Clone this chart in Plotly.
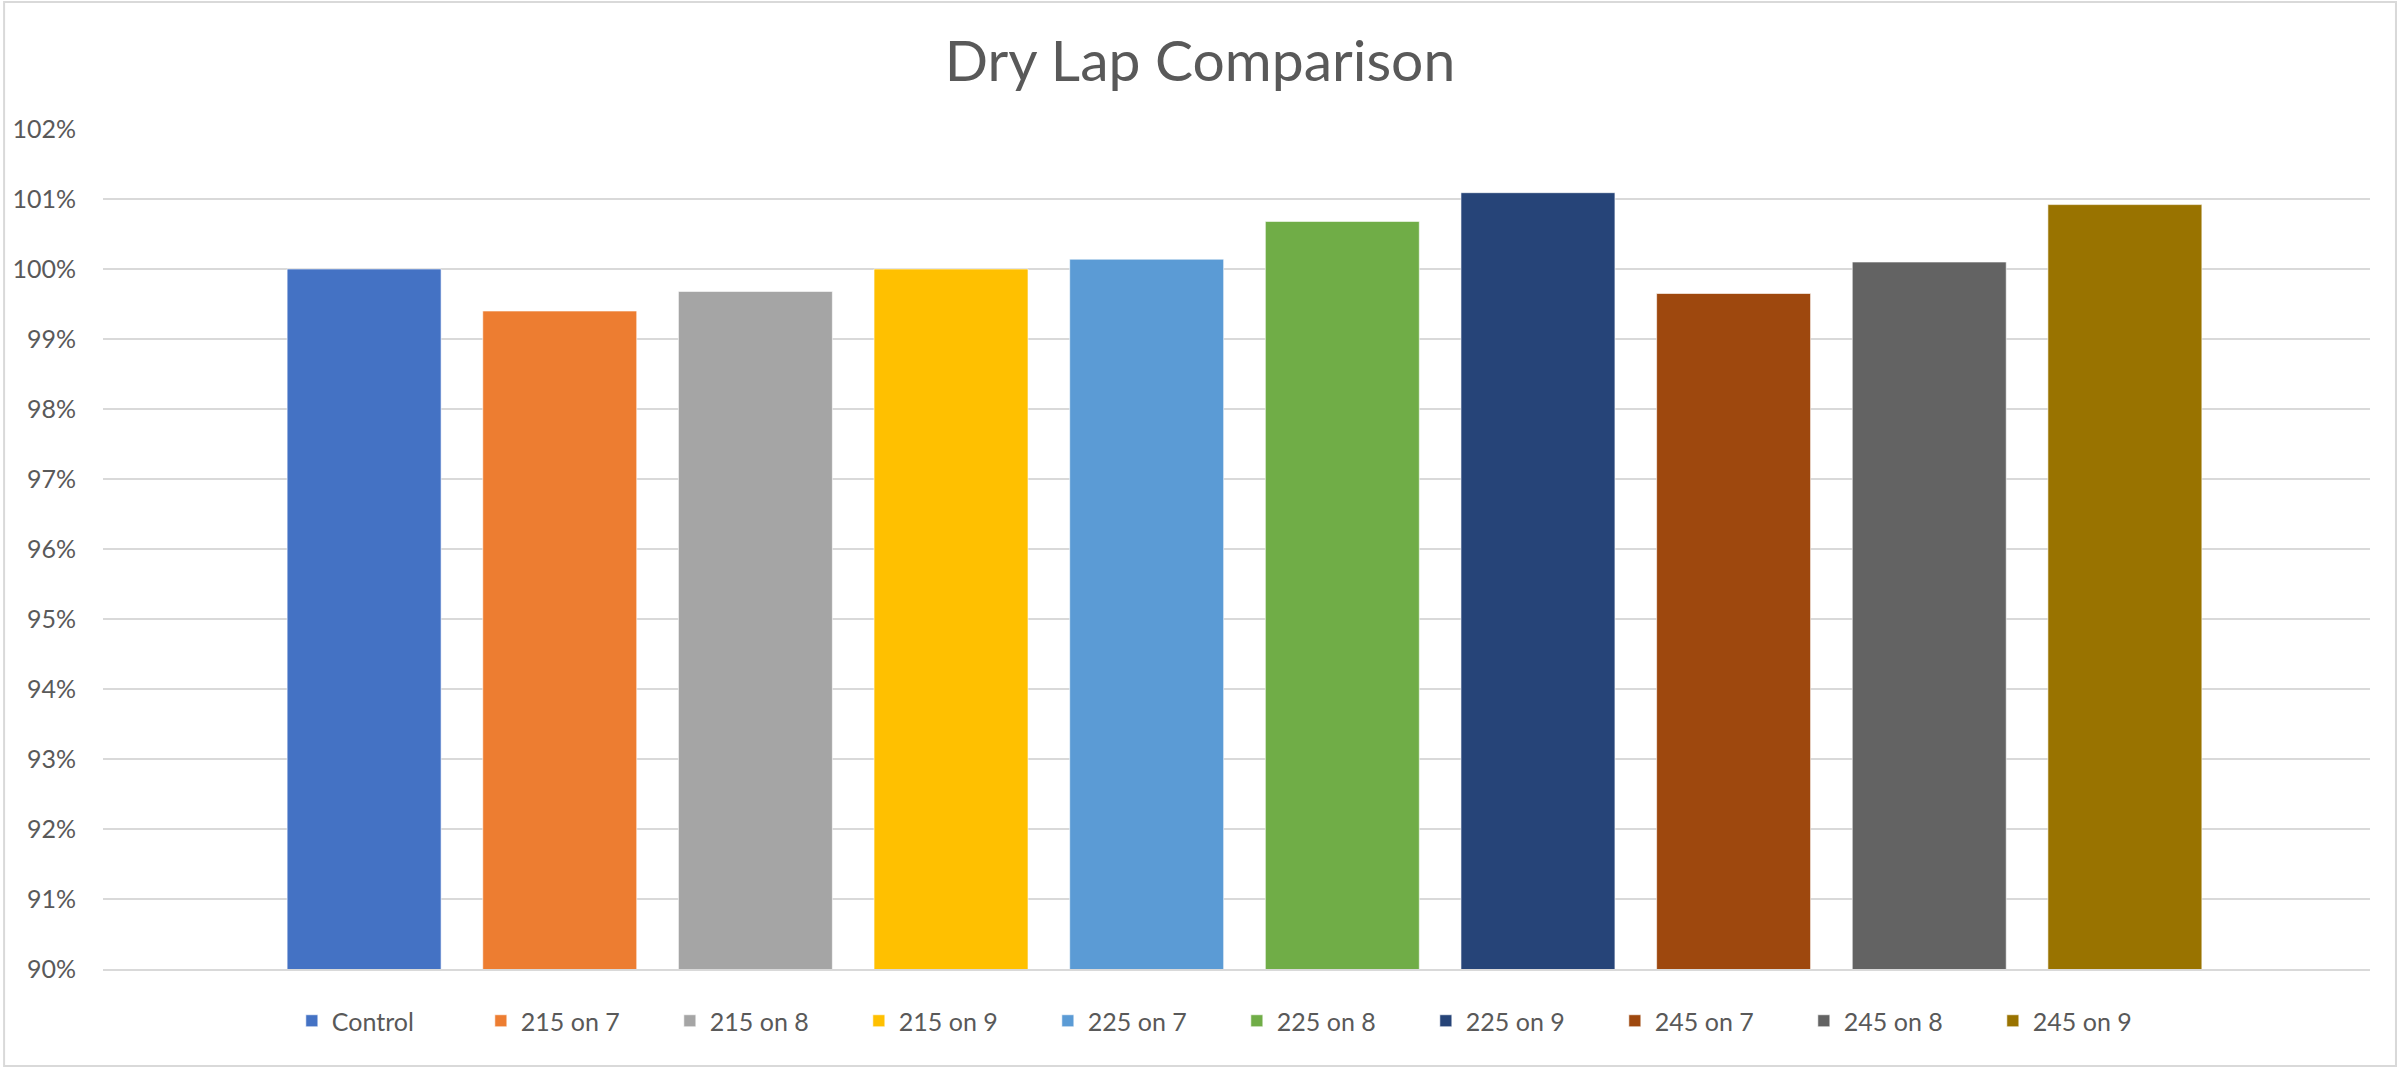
import plotly.graph_objects as go

# Dry lap values relative to the control run
series_names = ["Control", "215 on 7", "215 on 8", "215 on 9", "225 on 7",
                "225 on 8", "225 on 9", "245 on 7", "245 on 8", "245 on 9"]
dry_lap = [1.0000, 0.9940, 0.9968, 1.0000, 1.0014,
           1.0068, 1.0109, 0.9965, 1.0010, 1.0092]
colors = ["#4472C4", "#ED7D31", "#A5A5A5", "#FFC000", "#5B9BD5",
          "#70AD47", "#264478", "#9E480E", "#636363", "#997300"]
category = [""]

W, H = 2400, 1070
L, R, T, B = 101, 30, 129, 101
plot_w = W - L - R
plot_h = H - T - B

fig = go.Figure()
for name, val, col in zip(series_names, dry_lap, colors):
    fig.add_trace(go.Bar(
        x=category, y=[val], name=name,
        marker=dict(color=col, line=dict(color="rgba(255,255,255,0.6)", width=1)),
    ))

font_family = "Lato, 'Open Sans', sans-serif"
grey = "#595959"

fig.update_layout(
    width=W, height=H,
    margin=dict(l=L, r=R, t=T, b=B),
    paper_bgcolor="white", plot_bgcolor="white",
    barmode="group", bargap=0.137, bargroupgap=0.213,
    title=dict(text="Dry Lap Comparison", x=0.5, xref="container", xanchor="center",
               y=1 - 61 / H, yanchor="middle",
               font=dict(family=font_family, size=57, color=grey)),
    showlegend=True,
    legend=dict(orientation="h", x=(290 - L) / plot_w, xanchor="left",
                y=(T + plot_h - 1021) / plot_h, yanchor="middle",
                entrywidth=144, entrywidthmode="pixels",
                font=dict(family=font_family, size=25, color=grey)),
    font=dict(family=font_family, color=grey),
)
# group sits a few pixels right of centre in the original
shift = 8 / plot_w
fig.update_xaxes(range=[-0.5 - shift, 0.5 - shift],
                 showticklabels=False, showgrid=False, zeroline=False,
                 showline=True, linecolor="#d9d9d9", linewidth=2)
fig.update_yaxes(range=[0.90, 1.02], dtick=0.01, tickformat=".0%",
                 showgrid=True, gridcolor="#d9d9d9", gridwidth=2,
                 zeroline=False, showline=False, ticks="",
                 ticklabelstandoff=26,
                 tickfont=dict(family=font_family, size=25, color=grey))

# thin border around the whole chart area
fig.add_shape(type="rect", xref="paper", yref="paper",
              x0=(2 - L) / plot_w, x1=(W - 4 - L) / plot_w,
              y0=(T + plot_h - (H - 4)) / plot_h, y1=(T + plot_h - 2) / plot_h,
              line=dict(color="#d9d9d9", width=2), fillcolor="rgba(0,0,0,0)",
              layer="below")

fig.write_html("out.html", config={"displayModeBar": False},
               post_script="document.body.style.margin='0';")
